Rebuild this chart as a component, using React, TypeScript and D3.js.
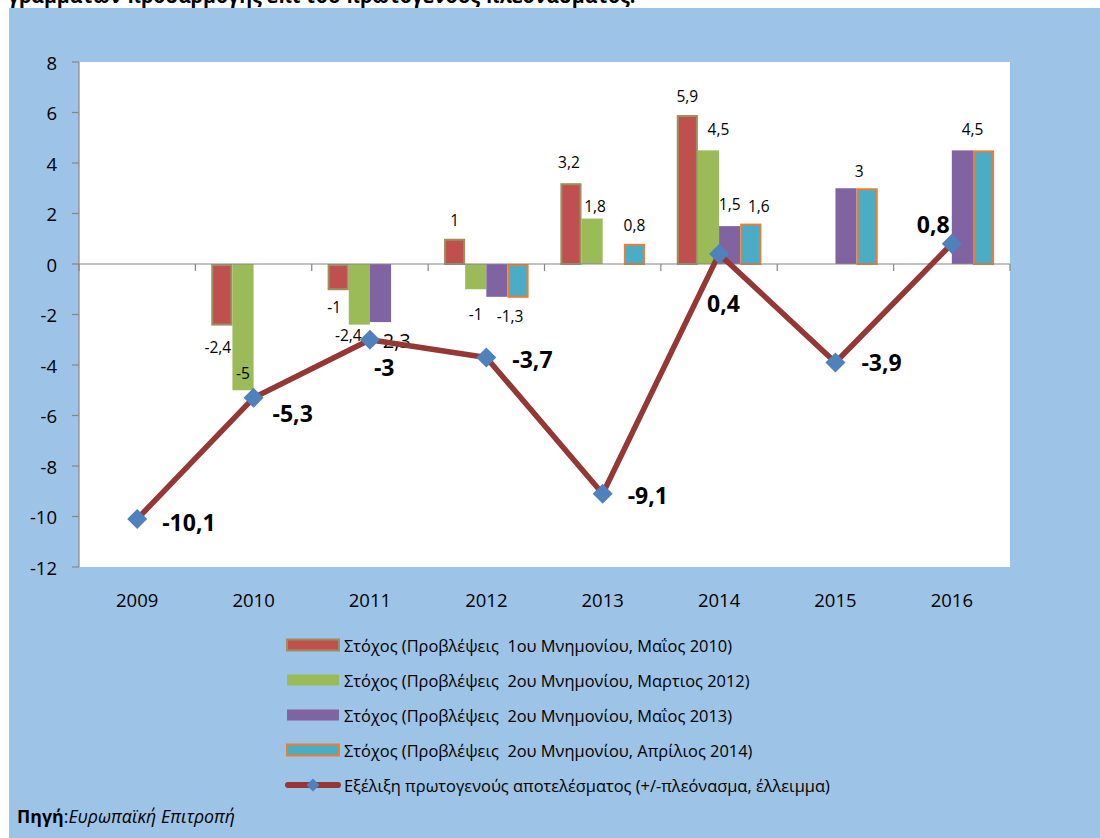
import React from 'react';
import * as d3 from 'd3';

const years = ['2009', '2010', '2011', '2012', '2013', '2014', '2015', '2016'];
const seriesNames = [
  'Στόχος (Προβλέψεις  1ου Μνημονίου, Μαΐος 2010)',
  'Στόχος (Προβλέψεις  2ου Μνημονίου, Μαρτιος 2012)',
  'Στόχος (Προβλέψεις  2ου Μνημονίου, Μαΐος 2013)',
  'Στόχος (Προβλέψεις  2ου Μνημονίου, Απρίλιος 2014)',
];
const lineName = 'Εξέλιξη πρωτογενούς αποτελέσματος (+/-πλεόνασμα, έλλειμμα)';
const target2010: (number | null)[] = [null, -2.4, -1, 1, 3.2, 5.9, null, null];
const target2012: (number | null)[] = [null, -5, -2.4, -1, 1.8, 4.5, null, null];
const target2013: (number | null)[] = [null, null, -2.3, -1.3, null, 1.5, 3, 4.5];
const target2014: (number | null)[] = [null, null, null, -1.3, 0.8, 1.6, 3, 4.5];
const primaryBalance = [-10.1, -5.3, -3, -3.7, -9.1, 0.4, -3.9, 0.8];
const yTicks = [-12, -10, -8, -6, -4, -2, 0, 2, 4, 6, 8];
const titleText = 'γραμμάτων προσαρμογής επί του πρωτογενούς πλεονάσματος.';

// styles
const barFill = ['#C0504D', '#9BBB59', '#8064A2', '#4BACC6'];
const barStroke = ['#9C9060', 'none', 'none', '#ED7D31'];
const FONT = "'Open Sans', sans-serif";

// label placement tweaks (dx, dy) keyed by series-year index
const barLabelAdjust: Record<string, { dx?: number; dy?: number; hide?: boolean; size?: number }> = {
  '0-1': { dx: -4, dy: 3 },
  '1-1': { dy: -36 },
  '0-2': { dx: -4, dy: -1 },
  '1-2': { dx: -11, dy: -9 },
  '2-2': { dx: 13, dy: -1, size: 20 },
  '1-3': { dy: 6 },
  '2-3': { hide: true },
  '3-3': { dx: -8 },
  '0-4': { dx: -2, dy: -2 },
  '1-4': { dx: 3, dy: 6 },
  '1-5': { dx: 10, dy: -2 },
  '2-5': { dy: -3 },
  '3-5': { dx: 8, dy: 1 },
  '2-6': { hide: true },
  '3-6': { dx: -8, dy: 2 },
  '2-7': { hide: true },
  '3-7': { dx: -11, dy: -2 },
};
const lineLabelOffset: [number, number][] = [
  [25, 3], [19, 15], [4, 27], [26, 2], [25, 1], [-12, 49], [26, 0], [-35, -20],
];

const W = 1100;
const H = 838;
const plot = { left: 79, right: 1010, top: 62, bottom: 567 };

const fmt = (v: number) => String(v).replace('.', ',');

export default function App() {
  const series = [target2010, target2012, target2013, target2014];
  const x0 = d3.scaleBand<string>().domain(years).range([plot.left, plot.right]).paddingInner(0).paddingOuter(0);
  const x1 = d3
    .scaleBand<number>()
    .domain([0, 1, 2, 3])
    .range([0, x0.bandwidth()])
    .paddingInner(0)
    .paddingOuter(0.75);
  const y = d3.scaleLinear().domain([-12, 8]).range([plot.bottom, plot.top]);
  const y0 = y(0);
  const cx = (i: number) => (x0(years[i]) as number) + x0.bandwidth() / 2;

  const linePath = d3
    .line<number>()
    .x((_, i) => cx(i))
    .y((d) => y(d))(primaryBalance) as string;

  const diamond = (x: number, yy: number, r: number) =>
    `M${x},${yy - r}L${x + r},${yy}L${x},${yy + r}L${x - r},${yy}Z`;

  const boundaries = d3.range(years.length + 1).map((k) => plot.left + k * x0.step());

  const legendRows = [645, 680, 715, 750, 785];

  return (
    <svg width={W} height={H} style={{ position: 'absolute', left: 0, top: 0 }} fontFamily={FONT}>
      <rect x={0} y={0} width={W} height={H} fill="#ffffff" />
      <text x={8} y={2.5} fontSize={19.6} fontWeight="bold" fill="#000">
        {titleText}
      </text>
      <rect x={9} y={8} width={W - 9} height={H - 8} fill="#9DC3E6" />
      <rect x={plot.left} y={plot.top} width={plot.right - plot.left} height={plot.bottom - plot.top} fill="#ffffff" />

      {/* bars */}
      {series.map((vals, s) =>
        vals.map((v, i) => {
          if (v === null) return null;
          const bx = (x0(years[i]) as number) + (x1(s) as number);
          const bw = x1.bandwidth();
          const yv = y(v);
          const sw = barStroke[s] === 'none' ? 0 : 2;
          return (
            <rect
              key={`b${s}-${i}`}
              x={bx + sw / 2}
              y={Math.min(yv, y0) + sw / 2}
              width={bw - sw}
              height={Math.max(0, Math.abs(yv - y0) - sw / 2)}
              fill={barFill[s]}
              stroke={barStroke[s]}
              strokeWidth={sw}
            />
          );
        })
      )}

      {/* axes */}
      <line x1={plot.left} x2={plot.left} y1={plot.top} y2={plot.bottom} stroke="#868686" strokeWidth={1.2} />
      {yTicks.map((t) => (
        <g key={`yt${t}`}>
          <line x1={plot.left - 7} x2={plot.left} y1={y(t)} y2={y(t)} stroke="#868686" strokeWidth={1.2} />
          <text x={plot.left - 22} y={y(t)} textAnchor="end" dominantBaseline="central" fontSize={18.5} fill="#000">
            {t}
          </text>
        </g>
      ))}
      <line x1={plot.left} x2={plot.right} y1={y0} y2={y0} stroke="#868686" strokeWidth={1.2} />
      {boundaries.map((bx, k) => (
        <line key={`xt${k}`} x1={bx} x2={bx} y1={y0} y2={y0 + 7} stroke="#868686" strokeWidth={1.2} />
      ))}
      {years.map((yr, i) => (
        <text key={`xl${yr}`} x={cx(i)} y={599} textAnchor="middle" dominantBaseline="central" fontSize={18.5} fill="#000">
          {yr}
        </text>
      ))}

      {/* bar labels */}
      {series.map((vals, s) =>
        vals.map((v, i) => {
          if (v === null) return null;
          const adj = barLabelAdjust[`${s}-${i}`] || {};
          if (adj.hide) return null;
          const bx = (x0(years[i]) as number) + (x1(s) as number) + x1.bandwidth() / 2;
          const ly = v >= 0 ? y(v) - 19 : y(v) + 19;
          return (
            <text
              key={`bl${s}-${i}`}
              x={bx + (adj.dx || 0)}
              y={ly + (adj.dy || 0)}
              textAnchor="middle"
              dominantBaseline="central"
              fontSize={adj.size || 15.5}
              fill="#000"
            >
              {fmt(v)}
            </text>
          );
        })
      )}

      {/* line series */}
      <path d={linePath} fill="none" stroke="#953735" strokeWidth={5.5} strokeLinejoin="round" />
      {primaryBalance.map((v, i) => (
        <path key={`m${i}`} d={diamond(cx(i), y(v), 10)} fill="#4F81BD" />
      ))}
      {primaryBalance.map((v, i) => (
        <text
          key={`ll${i}`}
          x={cx(i) + lineLabelOffset[i][0]}
          y={y(v) + lineLabelOffset[i][1]}
          dominantBaseline="central"
          fontSize={23}
          fontWeight="bold"
          fill="#000"
        >
          {fmt(v)}
        </text>
      ))}

      {/* legend */}
      {seriesNames.map((name, s) => (
        <g key={`lg${s}`}>
          <rect
            x={287}
            y={legendRows[s] - 5.5}
            width={52}
            height={11}
            fill={barFill[s]}
            stroke={barStroke[s]}
            strokeWidth={barStroke[s] === 'none' ? 0 : 2}
          />
          <text
            x={344}
            y={legendRows[s]}
            dominantBaseline="central"
            fontSize={16.4}
            fill="#000"
            style={{ whiteSpace: 'pre' }}
          >
            {name}
          </text>
        </g>
      ))}
      <line x1={288} x2={338} y1={legendRows[4]} y2={legendRows[4]} stroke="#953735" strokeWidth={6} strokeLinecap="round" />
      <path d={diamond(313, legendRows[4], 6.5)} fill="#4F81BD" />
      <text x={344} y={legendRows[4]} dominantBaseline="central" fontSize={16.4} fill="#000">
        {lineName}
      </text>

      {/* source */}
      <text x={17} y={816} dominantBaseline="central" fontSize={17.8} fill="#000">
        <tspan fontWeight="bold">Πηγή</tspan>
        <tspan>:</tspan>
        <tspan fontStyle="italic">Ευρωπαϊκή Επιτροπή</tspan>
      </text>
    </svg>
  );
}
